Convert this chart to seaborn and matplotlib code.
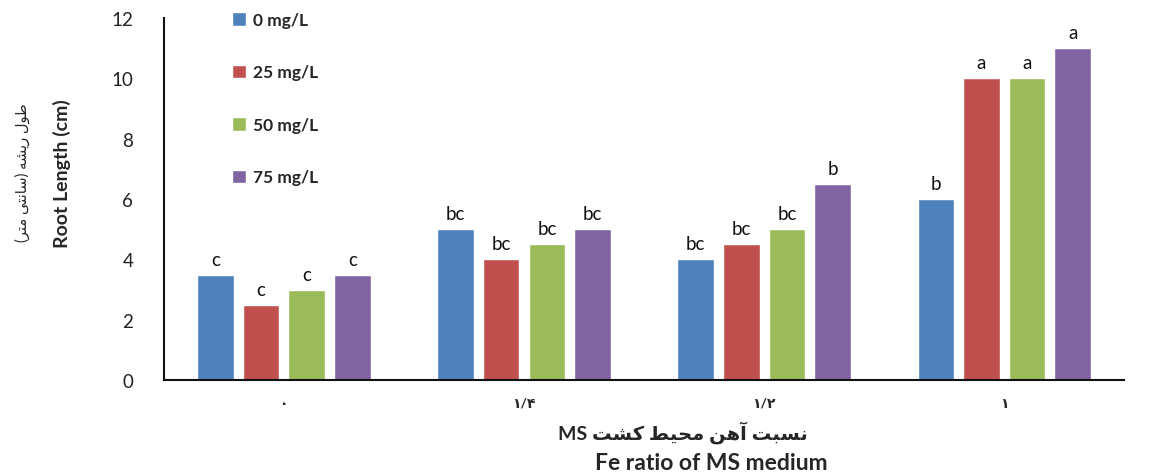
import matplotlib
matplotlib.use('Agg')
import matplotlib.pyplot as plt
import seaborn as sns
import pandas as pd

# Fe ratio of MS medium (Persian digits) and iron doses
groups = ['۰', '۱/۴', '۱/۲', '۱']
doses = ['0 mg/L', '25 mg/L', '50 mg/L', '75 mg/L']

# root length (cm) per dose, one value per group
dose_0 = [3.5, 5.0, 4.0, 6.0]
dose_25 = [2.5, 4.0, 4.5, 10.0]
dose_50 = [3.0, 4.5, 5.0, 10.0]
dose_75 = [3.5, 5.0, 6.5, 11.0]

# significance letters
letters_0 = ['c', 'bc', 'bc', 'b']
letters_25 = ['c', 'bc', 'bc', 'a']
letters_50 = ['c', 'bc', 'bc', 'a']
letters_75 = ['c', 'bc', 'b', 'a']

colors = ['#4F81BD', '#C0504D', '#9BBB59', '#8064A2']

# Persian labels written in visual order with presentation forms
# (matplotlib has no bidi / shaping): "نسبت آهن محیط کشت MS"
xlabel_fa = ('MS ' + '\uFE96\uFEB8\uFB90' + ' ' + '\uFEC2\uFBFF\uFEA4\uFEE3'
             + ' ' + '\uFEE6\uFEEB\uFE81' + ' ' + '\uFE96\uFE92\uFEB4\uFEE7')
# "طول ریشه (سانتی متر)"
ylabel_fa = ('(' + '\uFEAE\uFE98\uFEE3' + ' ' + '\uFBFD\uFE98\uFEE7\uFE8E\uFEB3'
             + ') ' + '\uFEEA\uFEB8\uFBFE\uFEAD' + ' ' + '\uFEDD\uFEEE\uFEC3')


def build_df():
    rows = []
    for dose, vals in zip(doses, [dose_0, dose_25, dose_50, dose_75]):
        for g, v in zip(groups, vals):
            rows.append({'ratio': g, 'dose': dose, 'length': v})
    return pd.DataFrame(rows)


def plot_bars(df):
    fig = plt.figure(figsize=(11.7, 4.77), dpi=100)
    ax = fig.add_axes([0.140, 0.201, 0.821, 0.759])
    sns.barplot(data=df, x='ratio', y='length', hue='dose', order=groups,
                hue_order=doses, palette=colors, width=0.76, gap=0.2,
                errorbar=None, saturation=1, ax=ax)

    for cont, lets in zip(ax.containers, [letters_0, letters_25, letters_50, letters_75]):
        ax.bar_label(cont, labels=lets, padding=5, fontsize=13.5, color='#111111')

    ax.set_xlim(-0.5, 3.5)
    ax.set_ylim(0, 12)
    ax.set_yticks(range(0, 13, 2))
    ax.tick_params(axis='y', direction='in', length=8, width=1.2,
                   labelsize=13.5, colors='#222222', pad=22)
    ax.set_xticks(range(len(groups)))
    ax.set_xticklabels(groups, fontsize=10, fontweight='bold')
    ax.tick_params(axis='x', length=0, pad=12)
    ax.set_xticks([0.5, 1.5, 2.5, 3.5], minor=True)
    ax.tick_params(axis='x', which='minor', direction='in', length=7, width=1.2)
    ax.set_xlabel('')
    ax.set_ylabel('')

    for side in ['top', 'right']:
        ax.spines[side].set_visible(False)
    for side in ['left', 'bottom']:
        ax.spines[side].set_color('#111111')
        ax.spines[side].set_linewidth(1.5)

    leg = ax.legend(loc='upper left', bbox_to_anchor=(0.055, 1.06), frameon=False,
                    fontsize=12.5, labelspacing=2.1, handlelength=0.8,
                    handleheight=0.8, handletextpad=0.4)
    for t in leg.get_texts():
        t.set_fontweight('bold')

    fig.text(0.584, 0.094, xlabel_fa, ha='center', va='center', fontsize=14,
             fontweight='bold')
    fig.text(0.608, 0.028, 'Fe ratio of MS medium', ha='center', va='center',
             fontsize=16.5, fontweight='bold')
    fig.text(0.019, 0.637, ylabel_fa, rotation=90, ha='center', va='center',
             fontsize=10.5)
    fig.text(0.053, 0.637, 'Root Length (cm)', rotation=90, ha='center',
             va='center', fontsize=14, fontweight='bold')
    fig.savefig('out.png', dpi=100)


if __name__ == '__main__':
    sns.set_style('white')
    plt.rcParams['font.family'] = ['Lato', 'DejaVu Sans']
    df = build_df()
    plot_bars(df)
